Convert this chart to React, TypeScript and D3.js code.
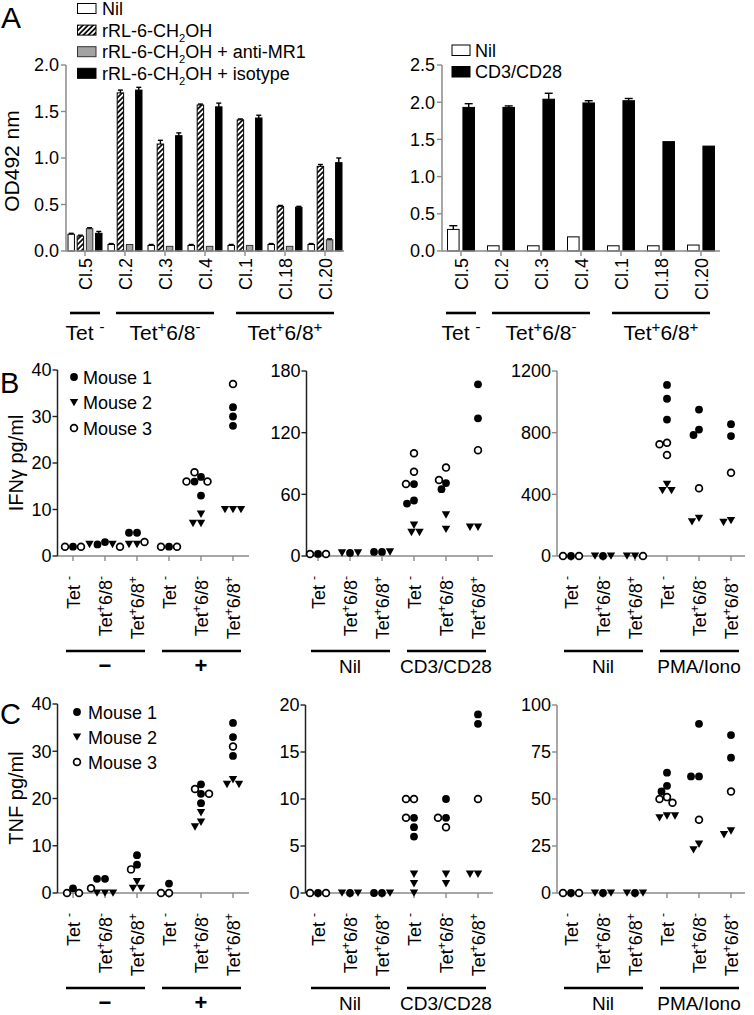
import React from "react";
import * as d3 from "d3";

const FONT = "'Liberation Sans', Arial, Helvetica, sans-serif";

// ---------------- Panel A data ----------------
const A_CLONES = ["Cl.5", "Cl.2", "Cl.3", "Cl.4", "Cl.1", "Cl.18", "Cl.20"];
const A_GROUPS = [
  { label: "Tet ^-", from: 0, to: 0 },
  { label: "Tet^+6/8^-", from: 1, to: 3 },
  { label: "Tet^+6/8^+", from: 4, to: 6 },
];
const A1_SERIES = ["Nil", "rRL-6-CH_2OH", "rRL-6-CH_2OH + anti-MR1", "rRL-6-CH_2OH + isotype"];
const A1_NIL = [0.18, 0.07, 0.06, 0.06, 0.06, 0.07, 0.07];
const A1_RRL = [0.16, 1.70, 1.15, 1.57, 1.41, 0.48, 0.91];
const A1_ANTI = [0.24, 0.07, 0.05, 0.05, 0.06, 0.05, 0.12];
const A1_ISO = [0.19, 1.73, 1.24, 1.55, 1.43, 0.47, 0.95];
const A1_NIL_ERR = [0.01, 0.01, 0.01, 0.01, 0.01, 0.01, 0.01];
const A1_RRL_ERR = [0.01, 0.03, 0.04, 0.01, 0.01, 0.01, 0.02];
const A1_ANTI_ERR = [0.01, 0.0, 0.0, 0.0, 0.0, 0.0, 0.01];
const A1_ISO_ERR = [0.02, 0.03, 0.03, 0.04, 0.03, 0.01, 0.05];
const A1_TICKS = [0, 0.5, 1.0, 1.5, 2.0];

const A2_SERIES = ["Nil", "CD3/CD28"];
const A2_NIL = [0.29, 0.07, 0.07, 0.19, 0.07, 0.07, 0.08];
const A2_CD3 = [1.93, 1.93, 2.04, 1.99, 2.02, 1.47, 1.41];
const A2_NIL_ERR = [0.05, 0, 0, 0, 0, 0, 0];
const A2_CD3_ERR = [0.05, 0.02, 0.08, 0.03, 0.03, 0, 0];
const A2_TICKS = [0, 0.5, 1.0, 1.5, 2.0, 2.5];

// ---------------- Panels B / C data ----------------
const CELL_TYPES = ["Tet ^-", "Tet^+6/8^-", "Tet^+6/8^+", "Tet ^-", "Tet^+6/8^-", "Tet^+6/8^+"];
const MICE = ["Mouse 1", "Mouse 2", "Mouse 3"];
const GROUPS_LEFT = ["\u2212", "+"];
const GROUPS_CD3 = ["Nil", "CD3/CD28"];
const GROUPS_PMA = ["Nil", "PMA/Iono"];

const B1_M1 = [[2], [3, 2.5], [5, 5], [2], [17, 16, 13], [32, 30, 28]];
const B1_M2 = [[], [2.5, 2.5], [2.5, 2.5], [], [9, 7, 7], [10, 10, 10]];
const B1_M3 = [[2, 2], [2], [3], [2, 2], [18, 16, 16], [37]];
const B1_TICKS = [0, 10, 20, 30, 40];

const B2_M1 = [[2], [3], [4, 4], [70, 54, 51], [71, 65], [167, 134]];
const B2_M2 = [[], [3, 3], [4], [30, 23, 23], [40, 26], [28, 28]];
const B2_M3 = [[2, 2], [], [], [100, 82, 70], [86, 74], [103]];
const B2_TICKS = [0, 60, 120, 180];

const B3_M1 = [[0], [0], [], [1110, 1020, 885], [950, 820, 785], [855, 778]];
const B3_M2 = [[], [0, 0], [0, 0], [465, 425, 425], [245, 222], [230, 218]];
const B3_M3 = [[0, 0], [], [0], [735, 725, 655], [439], [540]];
const B3_TICKS = [0, 400, 800, 1200];

const C1_M1 = [[1], [3, 3], [8, 6], [2], [23, 21, 19], [36, 33, 29]];
const C1_M2 = [[], [0, 0, 0], [2.4, 1, 1], [], [17, 15, 14], [24, 23, 23]];
const C1_M3 = [[0, 0], [1], [5], [0, 0], [22, 21], [31]];
const C1_TICKS = [0, 10, 20, 30, 40];

const C2_M1 = [[0], [0], [0, 0], [8, 7, 6], [10, 8], [19, 18]];
const C2_M2 = [[], [0, 0], [0], [2, 1, 0], [2, 1], [2, 2]];
const C2_M3 = [[0, 0], [], [], [10, 10, 8], [8, 7], [10]];
const C2_TICKS = [0, 5, 10, 15, 20];

const C3_M1 = [[0], [0], [0], [64, 57, 54], [90, 62, 62], [84, 72]];
const C3_M2 = [[], [0, 0], [0, 0], [41, 40, 41], [26, 23], [33, 31]];
const C3_M3 = [[0, 0], [], [], [51, 50, 48], [39], [54]];
const C3_TICKS = [0, 25, 50, 75, 100];

// ---------------- helpers ----------------
function parseRich(text: string) {
  const parts: { t: string; k: string }[] = [];
  let buf = "";
  for (let i = 0; i < text.length; i++) {
    const c = text[i];
    if (c === "^" || c === "_") {
      if (buf) parts.push({ t: buf, k: "n" });
      buf = "";
      parts.push({ t: text[i + 1], k: c === "^" ? "sup" : "sub" });
      i++;
    } else buf += c;
  }
  if (buf) parts.push({ t: buf, k: "n" });
  return parts;
}

function Rich({ text, fs, sc = 0.62, ...rest }: any) {
  const parts = parseRich(text);
  let cur = 0;
  return (
    <text fontSize={fs} style={{ whiteSpace: "pre" }} {...rest}>
      {parts.map((p, j) => {
        const target = p.k === "sup" ? -fs * 0.38 : p.k === "sub" ? fs * 0.28 : 0;
        const dy = target - cur;
        cur = target;
        return (
          <tspan key={j} dy={dy} fontSize={p.k === "n" ? fs : fs * sc}>
            {p.t}
          </tspan>
        );
      })}
    </text>
  );
}

function swarm(ys: number[], d: number): number[] {
  const placed: { x: number; y: number }[] = [];
  return ys.map((y) => {
    for (let k = 0; k < 400; k++) {
      const off = k === 0 ? 0 : (k % 2 === 1 ? -Math.ceil(k / 2) : Math.ceil(k / 2)) * 0.5;
      if (placed.every((p) => (p.x - off) ** 2 + (p.y - y) ** 2 >= d * d)) {
        placed.push({ x: off, y });
        return off;
      }
    }
    return 0;
  });
}

function Marker({ m, x, y }: { m: number; x: number; y: number }) {
  if (m === 0) return <circle cx={x} cy={y} r={3.9} fill="#000" />;
  if (m === 1)
    return <path d={`M${x - 4.2},${y - 3.6}L${x + 4.2},${y - 3.6}L${x},${y + 3.8}Z`} fill="#000" />;
  return <circle cx={x} cy={y} r={3.4} fill="#fff" stroke="#000" strokeWidth={1.7} />;
}

// ---------------- Bar panel ----------------
function BarPanel(props: {
  axisX: number; axisEnd: number; y0: number; yTop: number; max: number; ticks: number[];
  series: number[][]; errs: number[][]; fills: string[]; strokes: string[];
  innerHalf: number; innerPad: number; capW: number;
}) {
  const { axisX, axisEnd, y0, yTop, max, ticks, series, errs, fills, strokes, innerHalf, innerPad, capW } = props;
  const x = d3.scaleBand<string>().domain(A_CLONES).range([axisX - 1, axisEnd + 1]).padding(0);
  const y = d3.scaleLinear().domain([0, max]).range([y0, yTop]);
  const inner = d3.scaleBand<number>().domain(series.map((_, i) => i)).range([-innerHalf, innerHalf]).paddingInner(innerPad).paddingOuter(0);
  const fmt = d3.format(".1f");
  const axisCol = "#8a8a8a";
  return (
    <g>
      {A_CLONES.map((c, ci) => {
        const cx = (x(c) as number) + x.bandwidth() / 2;
        return (
          <g key={c}>
            {series.map((s, si) => {
              const bx = cx + (inner(si) as number);
              const bw = inner.bandwidth();
              const top = y(s[ci]);
              const e = errs[si][ci];
              return (
                <g key={si}>
                  <rect x={bx} y={top} width={bw} height={y0 - top} fill={fills[si]} stroke={strokes[si]} strokeWidth={1} />
                  {e > 0 && (
                    <g stroke="#000" strokeWidth={1.4}>
                      <line x1={bx + bw / 2} x2={bx + bw / 2} y1={top} y2={y(s[ci] + e)} />
                      <line x1={bx + bw / 2 - capW / 2} x2={bx + bw / 2 + capW / 2} y1={y(s[ci] + e)} y2={y(s[ci] + e)} />
                    </g>
                  )}
                </g>
              );
            })}
            <line x1={cx} x2={cx} y1={y0} y2={y0 + 5} stroke={axisCol} strokeWidth={1.4} />
            <text transform={`translate(${cx + 6.5},${y0 + 7}) rotate(-90)`} textAnchor="end" fontSize={18}>
              {c}
            </text>
          </g>
        );
      })}
      <line x1={axisX} x2={axisX} y1={y0} y2={yTop} stroke={axisCol} strokeWidth={1.5} />
      <line x1={axisX} x2={axisEnd} y1={y0} y2={y0} stroke={axisCol} strokeWidth={1.5} />
      {ticks.map((t) => (
        <g key={t}>
          <line x1={axisX - 5} x2={axisX} y1={y(t)} y2={y(t)} stroke={axisCol} strokeWidth={1.4} />
          <text x={axisX - 7} y={y(t) + 6.3} textAnchor="end" fontSize={18}>
            {fmt(t)}
          </text>
        </g>
      ))}
      {A_GROUPS.map((g) => {
        const c0 = (x(A_CLONES[g.from]) as number) + x.bandwidth() / 2;
        const c1 = (x(A_CLONES[g.to]) as number) + x.bandwidth() / 2;
        const pad = g.from === g.to ? 15 : 9;
        return (
          <g key={g.label}>
            <line x1={c0 - pad} x2={c1 + pad} y1={313} y2={313} stroke="#000" strokeWidth={2.6} />
            <Rich text={g.label} fs={21} sc={0.72} x={(c0 + c1) / 2} y={340} textAnchor="middle" />
          </g>
        );
      })}
    </g>
  );
}

// ---------------- Scatter panel ----------------
function ScatterPanel(props: {
  axisX: number; firstCat: number; axisEnd: number; y0: number; yTop: number; max: number;
  ticks: number[]; mice: number[][][]; groups: string[]; yAxisCol: string;
}) {
  const { axisX, firstCat, axisEnd, y0, yTop, max, ticks, mice, groups, yAxisCol } = props;
  const idx = CELL_TYPES.map((_, i) => i);
  const x = d3.scalePoint<number>().domain(idx).range([firstCat, firstCat + 32 * 5]);
  const y = d3.scaleLinear().domain([0, max]).range([y0, yTop]);
  const xCol = "#8a8a8a";
  return (
    <g>
      <line x1={axisX} x2={axisEnd} y1={y0} y2={y0} stroke={xCol} strokeWidth={1.5} />
      <line x1={axisX} x2={axisX} y1={y0} y2={yTop} stroke={yAxisCol} strokeWidth={1.5} />
      {ticks.map((t) => (
        <g key={t}>
          <line x1={axisX - 5} x2={axisX} y1={y(t)} y2={y(t)} stroke={yAxisCol} strokeWidth={1.4} />
          <text x={axisX - 6} y={y(t) + 6.3} textAnchor="end" fontSize={18}>
            {t}
          </text>
        </g>
      ))}
      {idx.map((ci) => {
        const cx = x(ci) as number;
        const pts: { m: number; v: number }[] = [];
        mice.forEach((arr, m) => arr[ci].forEach((v) => pts.push({ m, v })));
        const offs = swarm(pts.map((p) => y(p.v)), 7.6);
        return (
          <g key={ci}>
            <line x1={cx} x2={cx} y1={y0} y2={y0 + 5} stroke={xCol} strokeWidth={1.4} />
            {pts.map((p, k) => (
              <Marker key={k} m={p.m} x={cx + offs[k]} y={y(p.v)} />
            ))}
            <Rich text={CELL_TYPES[ci]} fs={18} sc={0.68} transform={`translate(${cx + 6.5},${y0 + 20}) rotate(-90)`} textAnchor="end" />
          </g>
        );
      })}
      {groups.map((g, gi) => {
        const c0 = x(gi * 3) as number;
        const c1 = x(gi * 3 + 2) as number;
        return (
          <g key={gi}>
            <line x1={c0 - 7} x2={c1 + 8} y1={y0 + 95} y2={y0 + 95} stroke="#000" strokeWidth={2.6} />
            <text x={(c0 + c1) / 2} y={y0 + 117} textAnchor="middle" fontSize={g.length === 1 ? 22 : 19} fontWeight={g.length === 1 ? "bold" : "normal"}>
              {g}
            </text>
          </g>
        );
      })}
    </g>
  );
}

function MouseLegend({ x, y0, dy, tx }: { x: number; y0: number; dy: number; tx: number }) {
  return (
    <g>
      {MICE.map((m, i) => (
        <g key={m}>
          <Marker m={i} x={x} y={y0 + i * dy} />
          <text x={tx} y={y0 + i * dy + 6.5} fontSize={18}>
            {m}
          </text>
        </g>
      ))}
    </g>
  );
}

export default function App() {
  const a1Series = [A1_NIL, A1_RRL, A1_ANTI, A1_ISO];
  const a1Errs = [A1_NIL_ERR, A1_RRL_ERR, A1_ANTI_ERR, A1_ISO_ERR];
  const a1Fills = ["#fff", "url(#hatch)", "#a3a3a3", "#000"];
  const a1Strokes = ["#000", "#000", "#333", "#000"];
  return (
    <svg width={754} height={1015} style={{ position: "absolute", left: 0, top: 0, background: "#fff" }} fontFamily={FONT}>
      <defs>
        <pattern id="hatch" patternUnits="userSpaceOnUse" width={3.6} height={3.6} patternTransform="rotate(45)">
          <rect width={3.6} height={3.6} fill="#fff" />
          <line x1={0.9} x2={0.9} y1={0} y2={3.6} stroke="#000" strokeWidth={1.7} />
        </pattern>
      </defs>
      <rect width={754} height={1015} fill="#fff" />

      {/* Panel A */}
      <text x={1} y={28} fontSize={30}>A</text>
      {A1_SERIES.map((s, i) => (
        <g key={s}>
          <rect x={77.5} y={3.5 + i * 21.6} width={18.5} height={10} fill={a1Fills[i]} stroke={a1Strokes[i]} strokeWidth={1} />
          <Rich text={s} fs={18} x={102} y={15 + i * 21.6} />
        </g>
      ))}
      <text transform="translate(19,161) rotate(-90)" textAnchor="middle" fontSize={21}>OD492 nm</text>
      <BarPanel axisX={66} axisEnd={344} y0={251} yTop={65} max={2} ticks={A1_TICKS}
        series={a1Series} errs={a1Errs} fills={a1Fills} strokes={a1Strokes}
        innerHalf={17} innerPad={0.3} capW={5} />

      {A2_SERIES.map((s, i) => (
        <g key={s}>
          <rect x={452} y={45 + i * 21.5} width={18} height={10.5} fill={i === 0 ? "#fff" : "#000"} stroke="#000" strokeWidth={1} />
          <text x={475} y={56.5 + i * 21.5} fontSize={18}>{s}</text>
        </g>
      ))}
      <BarPanel axisX={442} axisEnd={720} y0={251} yTop={65} max={2.5} ticks={A2_TICKS}
        series={[A2_NIL, A2_CD3]} errs={[A2_NIL_ERR, A2_CD3_ERR]} fills={["#fff", "#000"]} strokes={["#000", "#000"]}
        innerHalf={13.5} innerPad={0.25} capW={8} />

      {/* Panel B */}
      <text x={0} y={393} fontSize={29}>B</text>
      <text transform="translate(23,463) rotate(-90)" textAnchor="middle" fontSize={20}>IFN{"\u03B3"} pg/ml</text>
      <MouseLegend x={74} y0={377} dy={25.5} tx={83} />
      <ScatterPanel axisX={57.5} firstCat={73} axisEnd={249} y0={556} yTop={370} max={40} ticks={B1_TICKS}
        mice={[B1_M1, B1_M2, B1_M3]} groups={GROUPS_LEFT} yAxisCol="#222" />
      <ScatterPanel axisX={306.5} firstCat={318} axisEnd={493} y0={556} yTop={371} max={180} ticks={B2_TICKS}
        mice={[B2_M1, B2_M2, B2_M3]} groups={GROUPS_CD3} yAxisCol="#222" />
      <ScatterPanel axisX={557} firstCat={571} axisEnd={745} y0={556} yTop={371} max={1200} ticks={B3_TICKS}
        mice={[B3_M1, B3_M2, B3_M3]} groups={GROUPS_PMA} yAxisCol="#8a8a8a" />

      {/* Panel C */}
      <text x={0} y={724} fontSize={29}>C</text>
      <text transform="translate(23,798) rotate(-90)" textAnchor="middle" fontSize={20}>TNF pg/ml</text>
      <MouseLegend x={77} y0={712} dy={25} tx={88} />
      <ScatterPanel axisX={57.5} firstCat={73} axisEnd={249} y0={893} yTop={704} max={40} ticks={C1_TICKS}
        mice={[C1_M1, C1_M2, C1_M3]} groups={GROUPS_LEFT} yAxisCol="#222" />
      <ScatterPanel axisX={305.5} firstCat={318} axisEnd={493} y0={893} yTop={705} max={20} ticks={C2_TICKS}
        mice={[C2_M1, C2_M2, C2_M3]} groups={GROUPS_CD3} yAxisCol="#222" />
      <ScatterPanel axisX={557} firstCat={571} axisEnd={745} y0={893} yTop={705} max={100} ticks={C3_TICKS}
        mice={[C3_M1, C3_M2, C3_M3]} groups={GROUPS_PMA} yAxisCol="#8a8a8a" />
    </svg>
  );
}
